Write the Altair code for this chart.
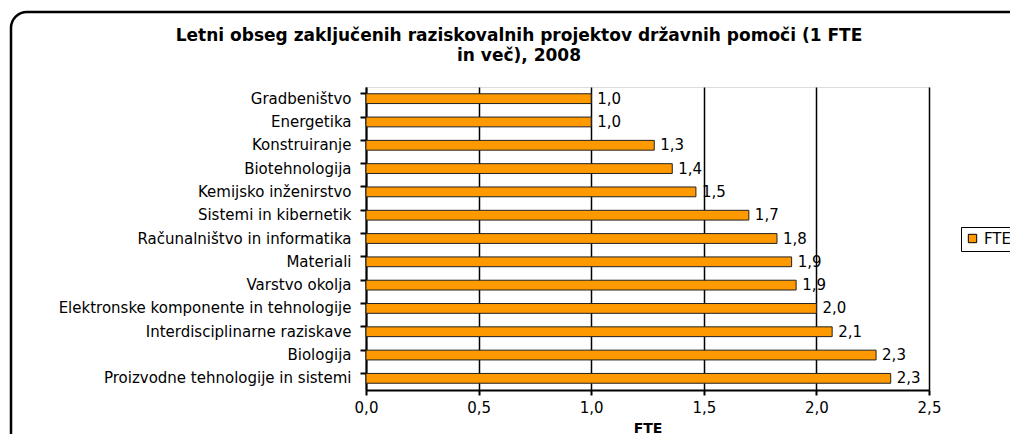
import altair as alt
import pandas as pd

categories = [
    "Gradbeništvo",
    "Energetika",
    "Konstruiranje",
    "Biotehnologija",
    "Kemijsko inženirstvo",
    "Sistemi in kibernetik\u00a0\u00a0",
    "Računalništvo in informatika",
    "Materiali",
    "Varstvo okolja\u00a0\u00a0",
    "Elektronske komponente in tehnologije",
    "Interdisciplinarne raziskave",
    "Biologija",
    "Proizvodne tehnologije in sistemi",
]
values = [1.0, 1.0, 1.28, 1.36, 1.465, 1.70, 1.825, 1.89, 1.91, 2.0, 2.07, 2.265, 2.33]
series_name = "FTE"
x_ticks = [0.0, 0.5, 1.0, 1.5, 2.0, 2.5]
title_line1 = "Letni obseg zaključenih raziskovalnih projektov državnih pomoči (1 FTE"
title_line2 = "in več), 2008"

df = pd.DataFrame({
    "podrocje": categories,
    "fte": values,
    "serija": [series_name] * len(categories),
})

FONT = "DejaVu Sans"
FS = 15
W, H = 563, 303

base = alt.Chart(df)

x_enc = alt.X(
    "fte:Q",
    scale=alt.Scale(domain=[0, 2.5], nice=False, zero=True),
    axis=alt.Axis(
        values=x_ticks,
        labelExpr="replace(format(datum.value, '.1f'), '.', ',')",
        labelFlush=False,
        title="FTE",
        grid=True, gridColor="black", gridWidth=1.5,
        domainColor="black", domainWidth=2,
        tickColor="black", tickWidth=2, tickSize=5,
        labelFont=FONT, labelFontSize=FS, labelColor="black", labelPadding=5,
        titleFont=FONT, titleFontSize=14, titleFontWeight="bold", titleColor="black",
        titlePadding=6,
    ),
)
y_enc = alt.Y(
    "podrocje:N",
    sort=categories,
    scale=alt.Scale(paddingInner=0.58, paddingOuter=0.29),
    axis=alt.Axis(
        title=None,
        bandPosition=0,
        domainColor="black", domainWidth=2,
        tickColor="black", tickWidth=2, tickSize=6,
        labelFont=FONT, labelFontSize=FS, labelColor="black",
        labelPadding=9, labelLimit=500,
    ),
)

single = alt.Data(values=[{}])

border = alt.Chart(single).mark_rect(
    fillOpacity=0, stroke="black", strokeWidth=2.5, cornerRadius=16, clip=False
).encode(
    x=alt.value(-355), y=alt.value(-75), x2=alt.value(W + 300), y2=alt.value(H + 120)
)

title1 = alt.Chart(single).mark_text(
    text=title_line1, font=FONT, fontSize=17, fontWeight="bold", color="black",
    align="center", baseline="middle", clip=False,
).encode(x=alt.value(153), y=alt.value(-51))

title2 = alt.Chart(single).mark_text(
    text=title_line2, font=FONT, fontSize=17, fontWeight="bold", color="black",
    align="center", baseline="middle", clip=False,
).encode(x=alt.value(153), y=alt.value(-31))

bars = base.mark_bar(stroke="#222222", strokeWidth=1).encode(
    x=x_enc,
    y=y_enc,
    color=alt.Color(
        "serija:N",
        scale=alt.Scale(range=["#FF9900"]),
        legend=alt.Legend(
            title=None, orient="none", legendX=595, legendY=140,
            strokeColor="black", padding=4, fillColor="white",
            symbolType="square", symbolSize=70,
            symbolStrokeColor="black", symbolStrokeWidth=1,
            labelFont=FONT, labelFontSize=FS, labelColor="black",
        ),
    ),
)

labels = base.transform_calculate(
    lbl="replace(format(datum.fte, '.1f'), '.', ',')"
).mark_text(
    align="left", baseline="middle", dx=6, font=FONT, fontSize=FS, color="black"
).encode(
    x="fte:Q", y=alt.Y("podrocje:N", sort=categories), text="lbl:N"
)

chart = alt.layer(border, title1, title2, bars, labels).properties(
    width=W,
    height=H,
    autosize=alt.AutoSizeParams(type="none"),
    padding={"left": 358, "top": 79, "right": 81, "bottom": 44},
).configure_view(
    fill="#C0C0C0", stroke="#808080", strokeWidth=1
).configure_legend(
    strokeWidth=2
).configure(background="white")

chart.save("out.html", embed_options={"renderer": "svg", "actions": False})
